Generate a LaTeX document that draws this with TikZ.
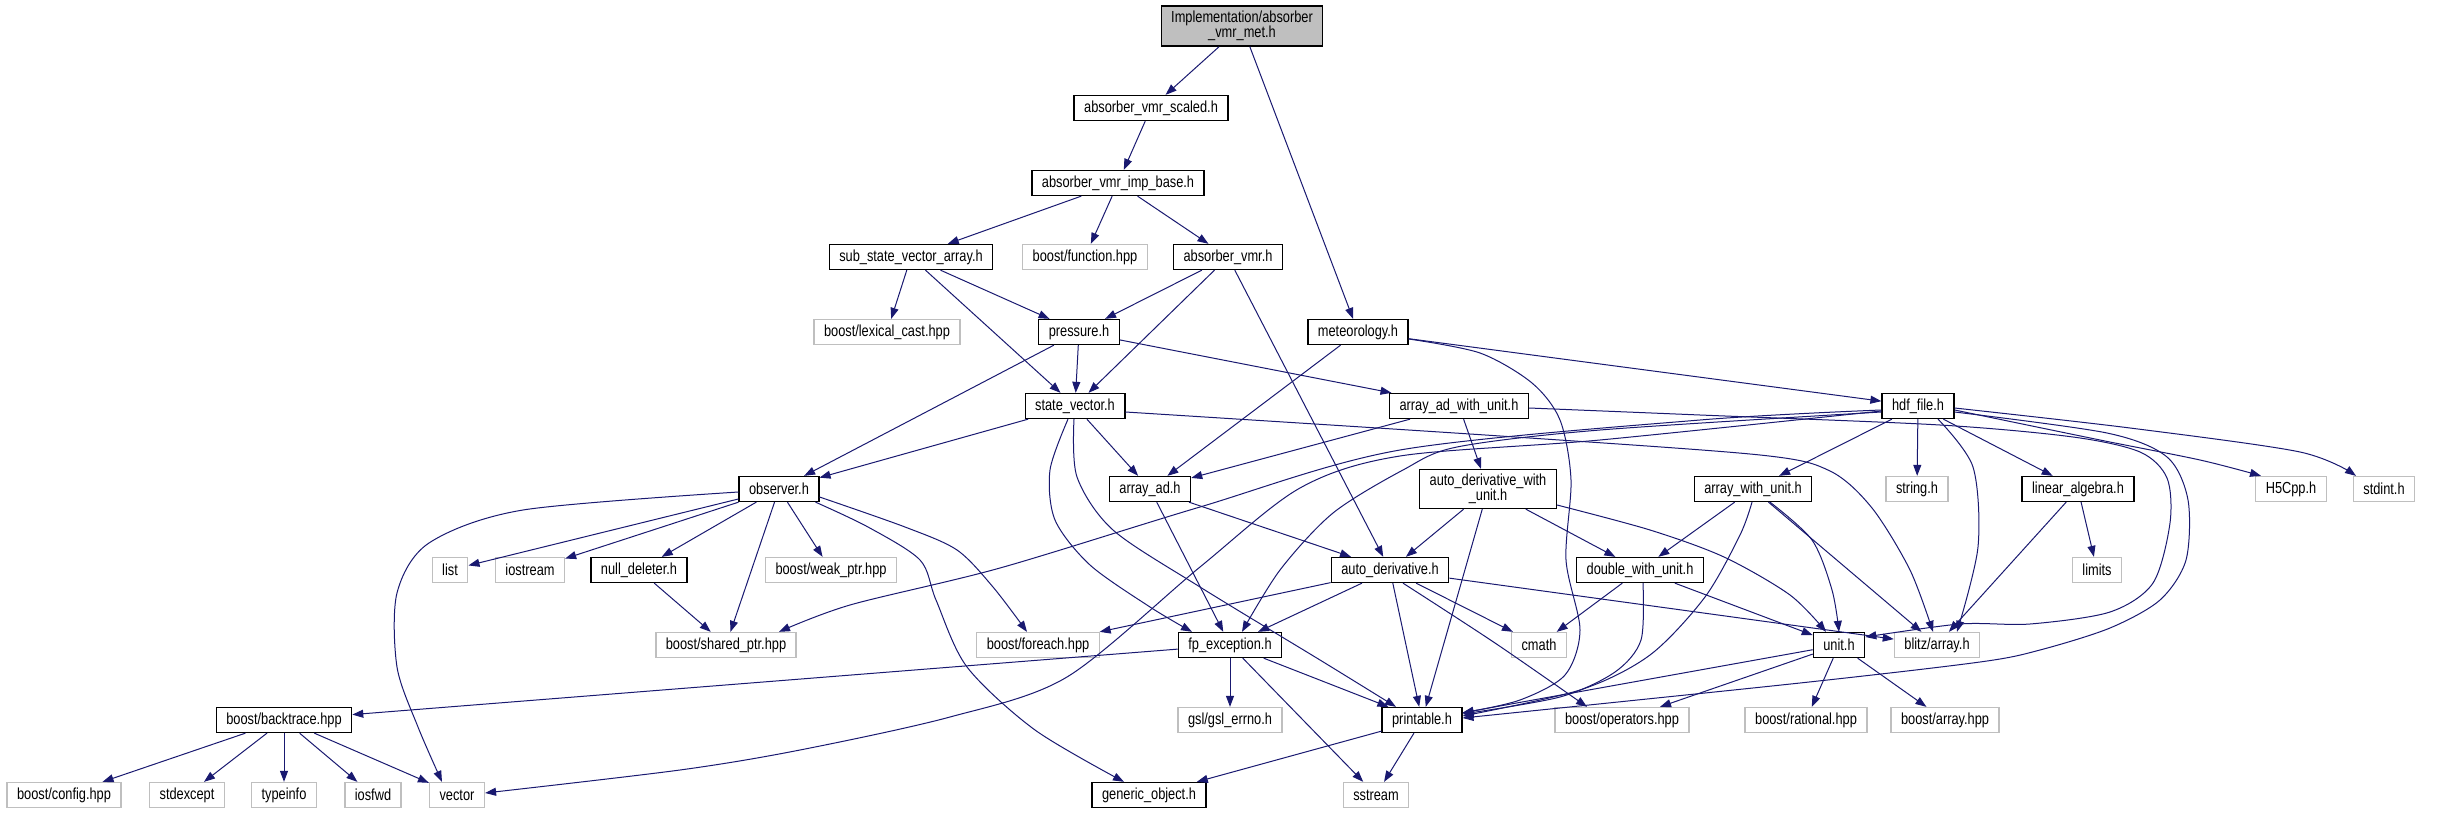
\documentclass[tikz,border=0pt]{standalone}
\usepackage{fontspec}
\setmainfont{Liberation Sans}[FakeStretch=0.8]
\usepackage{xcolor}
\usetikzlibrary{arrows.meta}
\definecolor{edgeblue}{HTML}{191970}
\definecolor{extgray}{HTML}{BFBFBF}

\begin{document}
\begin{tikzpicture}[
    x=1pt, y=-1pt,
    every node/.style={
        font=\fontsize{16}{15}\selectfont,
        inner xsep=10pt,
        inner ysep=2pt,
        minimum height=25pt,
        line width=1.3pt
    },
    doc file/.style={draw=black},           % 有文档的头文件
    sys file/.style={draw=extgray},         % 外部头文件
    main file/.style={draw=black, fill=extgray, align=center, minimum height=40pt},
    dep edge/.style={draw=edgeblue, line width=1pt, -{Triangle[length=11pt,width=8pt]}}
]
    \useasboundingbox (0,0) rectangle (2445,813);

    % 先放节点
    \node[main file] (top) at (1242,26) {Implementation/absorber\\\_vmr\_met.h};
    \node[doc file] (scaled) at (1151,108) {absorber\_vmr\_scaled.h};
    \node[doc file] (impbase) at (1118,183) {absorber\_vmr\_imp\_base.h};
    \node[doc file] (subsva) at (911,257) {sub\_state\_vector\_array.h};
    \node[sys file] (bfunction) at (1085,257) {boost/function.hpp};
    \node[doc file] (avmr) at (1228,257) {absorber\_vmr.h};
    \node[sys file] (lexcast) at (887,332) {boost/lexical\_cast.hpp};
    \node[doc file] (pressure) at (1079,332) {pressure.h};
    \node[doc file] (meteo) at (1358,332) {meteorology.h};
    \node[doc file] (statevec) at (1075,406) {state\_vector.h};
    \node[doc file] (aadwu) at (1459,406) {array\_ad\_with\_unit.h};
    \node[doc file] (hdf) at (1918,406) {hdf\_file.h};
    \node[doc file] (observer) at (779,489) {observer.h};
    \node[doc file] (arrayad) at (1150,489) {array\_ad.h};
    \node[doc file, align=center, minimum height=39pt] (adwu) at (1488,489) {auto\_derivative\_with\\\_unit.h};
    \node[doc file] (awu) at (1753,489) {array\_with\_unit.h};
    \node[sys file] (stringh) at (1917,489) {string.h};
    \node[doc file] (linalg) at (2078,489) {linear\_algebra.h};
    \node[sys file] (h5cpp) at (2291,489) {H5Cpp.h};
    \node[sys file] (stdint) at (2384,489) {stdint.h};
    \node[sys file] (list) at (450,570) {list};
    \node[sys file] (iostream) at (530,570) {iostream};
    \node[doc file] (nulldel) at (639,570) {null\_deleter.h};
    \node[sys file] (weakptr) at (831,570) {boost/weak\_ptr.hpp};
    \node[doc file] (autoder) at (1390,570) {auto\_derivative.h};
    \node[doc file] (dwu) at (1640,570) {double\_with\_unit.h};
    \node[sys file] (limits) at (2097,570) {limits};
    \node[sys file] (sharedptr) at (726,645) {boost/shared\_ptr.hpp};
    \node[sys file] (foreach) at (1038,645) {boost/foreach.hpp};
    \node[doc file] (fpexc) at (1230,645) {fp\_exception.h};
    \node[sys file] (cmath) at (1539,645) {cmath};
    \node[doc file] (unit) at (1839,645) {unit.h};
    \node[sys file] (blitz) at (1937,645) {blitz/array.h};
    \node[doc file] (backtrace) at (284,720) {boost/backtrace.hpp};
    \node[sys file] (gslerrno) at (1230,720) {gsl/gsl\_errno.h};
    \node[doc file] (printable) at (1422,720) {printable.h};
    \node[sys file] (operators) at (1622,720) {boost/operators.hpp};
    \node[sys file] (rational) at (1806,720) {boost/rational.hpp};
    \node[sys file] (barray) at (1945,720) {boost/array.hpp};
    \node[sys file] (config) at (64,795) {boost/config.hpp};
    \node[sys file] (stdexcept) at (187,795) {stdexcept};
    \node[sys file] (typeinfo) at (284,795) {typeinfo};
    \node[sys file] (iosfwd) at (373,795) {iosfwd};
    \node[sys file] (vector) at (457,795) {vector};
    \node[doc file] (genobj) at (1149,795) {generic\_object.h};
    \node[sys file] (sstream) at (1376,795) {sstream};

    % 直线依赖
    \draw[dep edge] (top) -- (scaled);
    \draw[dep edge] (top) -- (meteo);
    \draw[dep edge] (scaled) -- (impbase);
    \draw[dep edge] (impbase) -- (subsva);
    \draw[dep edge] (impbase) -- (bfunction);
    \draw[dep edge] (impbase) -- (avmr);
    \draw[dep edge] (subsva) -- (lexcast);
    \draw[dep edge] (subsva) -- (pressure);
    \draw[dep edge] (subsva) -- (statevec);
    \draw[dep edge] (avmr) -- (pressure);
    \draw[dep edge] (avmr) -- (statevec);
    \draw[dep edge] (avmr) -- (autoder);
    \draw[dep edge] (pressure) -- (statevec);
    \draw[dep edge] (pressure) -- (observer);
    \draw[dep edge] (pressure) -- (aadwu);
    \draw[dep edge] (meteo) -- (arrayad);
    \draw[dep edge] (meteo) -- (hdf);
    \draw[dep edge] (statevec) -- (observer);
    \draw[dep edge] (statevec) -- (arrayad);
    \draw[dep edge] (aadwu) -- (arrayad);
    \draw[dep edge] (aadwu) -- (adwu);
    \draw[dep edge] (adwu) -- (autoder);
    \draw[dep edge] (adwu) -- (printable);
    \draw[dep edge] (adwu) -- (dwu);
    \draw[dep edge] (arrayad) -- (fpexc);
    \draw[dep edge] (arrayad) -- (autoder);
    \draw[dep edge] (observer) -- (list);
    \draw[dep edge] (observer) -- (iostream);
    \draw[dep edge] (observer) -- (nulldel);
    \draw[dep edge] (observer) -- (sharedptr);
    \draw[dep edge] (observer) -- (weakptr);
    \draw[dep edge] (nulldel) -- (sharedptr);
    \draw[dep edge] (hdf) -- (awu);
    \draw[dep edge] (hdf) -- (stringh);
    \draw[dep edge] (hdf) -- (linalg);
    \draw[dep edge] (linalg) -- (blitz);
    \draw[dep edge] (linalg) -- (limits);
    \draw[dep edge] (awu) -- (dwu);
    \draw[dep edge] (awu) -- (blitz);
    \draw[dep edge] (dwu) -- (cmath);
    \draw[dep edge] (dwu) -- (unit);
    \draw[dep edge] (autoder) -- (foreach);
    \draw[dep edge] (autoder) -- (fpexc);
    \draw[dep edge] (autoder) -- (printable);
    \draw[dep edge] (autoder) -- (cmath);
    \draw[dep edge] (autoder) -- (blitz);
    \draw[dep edge] (fpexc) -- (backtrace);
    \draw[dep edge] (fpexc) -- (gslerrno);
    \draw[dep edge] (fpexc) -- (printable);
    \draw[dep edge] (fpexc) -- (sstream);
    \draw[dep edge] (printable) -- (genobj);
    \draw[dep edge] (printable) -- (sstream);
    \draw[dep edge] (unit) -- (printable);
    \draw[dep edge] (unit) -- (operators);
    \draw[dep edge] (unit) -- (rational);
    \draw[dep edge] (unit) -- (barray);
    \draw[dep edge] (backtrace) -- (config);
    \draw[dep edge] (backtrace) -- (stdexcept);
    \draw[dep edge] (backtrace) -- (typeinfo);
    \draw[dep edge] (backtrace) -- (iosfwd);
    \draw[dep edge] (backtrace) -- (vector);

    % 弯曲的依赖
    \draw[dep edge] plot[smooth] coordinates {([yshift=-7pt]meteo.east) (1480,353) (1532,383) (1560,420) (1571,480) (1566,560) (1580,630) (1565,675) (1520,700) ([yshift=7pt]printable.east)};
    \draw[dep edge] plot[smooth] coordinates {([xshift=-7pt]statevec.south) (1050,470) (1055,520) (1090,565) (1150,607) ([xshift=-38pt]fpexc.north)};
    \draw[dep edge] plot[smooth] coordinates {([xshift=-1pt]statevec.south) (1077,477) (1113,530) (1200,587) (1320,660) ([xshift=-26pt]printable.north)};
    \draw[dep edge] plot[smooth] coordinates {([yshift=-6pt]statevec.east) (1500,436) (1760,455) (1830,471) (1872,508) (1910,570) ([xshift=-4pt]blitz.north)};
    \draw[dep edge] plot[smooth] coordinates {([yshift=-2pt]aadwu.east) (1700,415) (1940,425) (2073,437) (2140,452) (2167,478) (2170,523) (2153,583) (2110,612) (2030,624) (1960,624) ([yshift=8pt]unit.east)};
    \draw[dep edge] plot[smooth] coordinates {([yshift=-16pt]adwu.east) (1650,530) (1724,557) (1790,595) ([xshift=-13pt]unit.north)};
    \draw[dep edge] plot[smooth] coordinates {([yshift=-8pt]observer.east) (905,527) (957,550) (993,587) ([xshift=-11pt]foreach.north)};
    \draw[dep edge] plot[smooth] coordinates {([xshift=-4pt]observer.south east) (868,527) (920,560) (936,600) (967,667) (1035,730) ([xshift=-25pt]genobj.north)};
    \draw[dep edge] plot[smooth] coordinates {([yshift=-3pt]observer.west) (523,510) (429,543) (397,593) (397,667) (418,727) ([xshift=-15pt]vector.north)};
    \draw[dep edge] plot[smooth] coordinates {([yshift=-4pt]hdf.west) (1700,420) (1400,450) (1200,507) (1000,568) (850,605) ([xshift=53pt]sharedptr.north)};
    \draw[dep edge] plot[smooth] coordinates {([yshift=-5pt]hdf.west) (1600,440) (1400,456) (1300,488) (1200,567) (1067,677) (950,717) (800,750) (680,770) ([yshift=2pt]vector.east)};
    \draw[dep edge] plot[smooth] coordinates {([yshift=-6pt]hdf.west) (1600,430) (1457,447) (1403,470) (1333,513) (1280,570) ([xshift=12pt]fpexc.north)};
    \draw[dep edge] plot[smooth] coordinates {([xshift=20pt]hdf.south) (1973,467) (1978,547) ([xshift=20pt]blitz.north)};
    \draw[dep edge] plot[smooth] coordinates {([yshift=-4pt]hdf.east) (2100,440) (2200,460) ([xshift=-30pt]h5cpp.north)};
    \draw[dep edge] plot[smooth] coordinates {([yshift=-2pt]hdf.east) (2130,428) (2300,452) ([xshift=-28pt]stdint.north)};
    \draw[dep edge] plot[smooth] coordinates {([yshift=-6pt]hdf.east) (2107,433) (2167,457) (2188,500) (2186,560) (2160,600) (2110,628) (2040,650) (1980,662) (1800,683) ([yshift=2pt]printable.east)};
    \draw[dep edge] plot[smooth] coordinates {([xshift=-1pt]awu.south) (1740,535) (1705,597) (1650,655) (1580,690) ([yshift=4pt]printable.east)};
    \draw[dep edge] plot[smooth] coordinates {([xshift=17pt]awu.south) (1812,540) (1832,590) (unit.north)};
    \draw[dep edge] plot[smooth] coordinates {([xshift=3pt]dwu.south) (1641,640) (1615,672) (1560,697) ([yshift=6pt]printable.east)};
    \draw[dep edge] plot[smooth] coordinates {([xshift=13pt]autoder.south) (1495,643) ([xshift=-35pt]operators.north)};
\end{tikzpicture}
\end{document}
